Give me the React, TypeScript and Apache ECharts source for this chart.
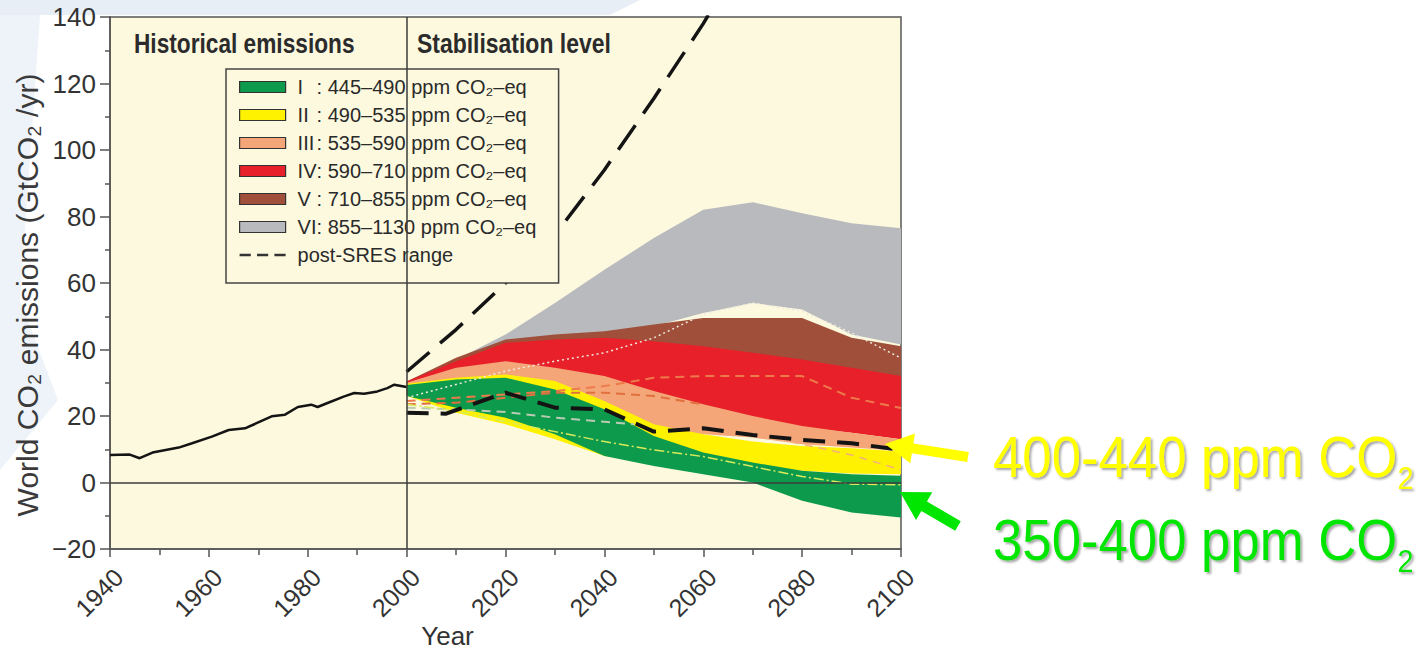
import { useEffect, useRef } from 'react';
import * as echarts from 'echarts';

const FONT = '"Liberation Sans", Arimo, Arial, sans-serif';

// Historical emissions
const histYears = [1940, 1944, 1946, 1948.6, 1953.9, 1956.6, 1960.6, 1964, 1967.3, 1969.3, 1972.7, 1975.4, 1978, 1980.7, 1982, 1984, 1987.4, 1989.4, 1991.4, 1994.1, 1996.1, 1997.5, 2000];
const histValues = [8.3, 8.4, 7.3, 9.0, 10.5, 11.8, 13.8, 15.8, 16.3, 17.6, 19.9, 20.4, 22.7, 23.4, 22.7, 23.9, 25.9, 26.9, 26.7, 27.4, 28.4, 29.4, 28.7];

// Stabilisation scenario bands
const scenarioYears = [2000, 2010, 2020, 2030, 2040, 2050, 2060, 2070, 2080, 2090, 2100];
const bandNumerals = ['I', 'II', 'III', 'IV', 'V', 'VI'];
const bandRanges = ['445–490', '490–535', '535–590', '590–710', '710–855', '855–1130'];
const bandColors = ['#0e9a4c', '#fff200', '#f5a678', '#e8202a', '#a04f3a', '#b9babd'];

const greenLow = [26, 22.5, 19.5, 14.5, 8, 5, 2.5, 0, -5.5, -9, -10.5];
const greenHigh = [29.3, 31, 31.5, 28, 22, 14, 9, 6, 3.5, 2.5, 2];
const yellowLow = [26, 21, 17.5, 13, 8, 6, 6.5, 5, 3.5, 2.7, 2.5];
const yellowHigh = [29.7, 31.5, 32.5, 30.5, 24.5, 17.5, 14.5, 12.3, 11, 10.3, 9.3];
const orangeLow = [26, 24, 24, 23, 21, 16, 14.5, 13.5, 11.5, 10.5, 9.5];
const orangeHigh = [30, 34.5, 36.5, 34.5, 32, 27.5, 23.5, 20, 17, 15, 13];
const redLow = [27, 27, 27, 27, 26, 24, 21, 18.5, 16.5, 15, 13];
const redHigh = [30.4, 36.5, 42, 43, 43.5, 42.5, 41, 39, 37, 34.5, 32];
const brownLow = [29, 33, 38, 40, 40, 40, 39, 37, 35, 32, 30];
const brownHigh = [30.4, 37.5, 43, 44.5, 45.5, 47.5, 49.5, 49.5, 49.5, 43.5, 41];
const grayLow = [29, 34, 40, 42, 44, 47, 51, 54, 52, 44.5, 41.5];
const grayHigh = [30.4, 37, 44.5, 54, 64, 73.5, 82, 84.3, 81, 78, 76.5];

const bandLows = [greenLow, yellowLow, orangeLow, redLow, brownLow, grayLow];
const bandHighs = [greenHigh, yellowHigh, orangeHigh, redHigh, brownHigh, grayHigh];

// post-SRES range lines
const sresUpperYears = [2000, 2010, 2020, 2030, 2040, 2050, 2060, 2062];
const sresUpperValues = [33.3, 46, 60, 74.5, 94, 115.5, 138, 143];
const sresLowerYears = [2000, 2008, 2020, 2030, 2040, 2050, 2060, 2070, 2080, 2090, 2100];
const sresLowerValues = [21, 20.7, 27, 22.5, 22, 15.3, 16.3, 14.3, 12.8, 11.8, 9.8];
const orangeDashYears = [2000, 2010, 2020, 2030, 2040, 2050, 2060, 2070, 2080, 2090, 2100];
const orangeDashValues = [24.5, 25.5, 26.5, 27.5, 29, 31.5, 32, 32, 32, 25.5, 22.4];
const orangeDash2Years = [2000, 2010, 2020, 2030, 2040, 2050, 2060];
const orangeDash2Values = [23.5, 24, 25.5, 27, 27, 26, 23.5];
const paleDashYears = [2000, 2010, 2020, 2030, 2040, 2046];
const paleDashValues = [22.5, 22, 21.2, 19.5, 18.3, 17.5];
const yellowDashYears = [2000, 2010, 2020, 2030, 2040, 2050, 2060, 2070, 2080, 2090, 2100];
const yellowDashValues = [23.5, 21.5, 18.3, 15.3, 12.3, 9.8, 7.8, 4.8, 1.8, -0.5, -0.7];
const whiteDotYears = [2000, 2010, 2020, 2030, 2040, 2050, 2060, 2070, 2080, 2090, 2100];
const whiteDotValues = [25.5, 29.5, 33.5, 36.5, 39, 43.5, 50.5, 54, 51.5, 45, 37.4];
const lightOrangeYears = [2075, 2080, 2090, 2100];
const lightOrangeValues = [13, 11.5, 8.3, 3.8];

const SRES = 'post-SRES range';

function pairs(xs: number[], ys: number[]) {
  return xs.map((x, i) => [x, ys[i]]);
}

function arrow(tail: number[], tip: number[], headLen: number, headHalf: number, shaftHalf: number) {
  const dx = tip[0] - tail[0];
  const dy = tip[1] - tail[1];
  const L = Math.hypot(dx, dy);
  const ux = dx / L, uy = dy / L;
  const nx = -uy, ny = ux;
  const bx = tip[0] - ux * headLen, by = tip[1] - uy * headLen;
  return [
    [tail[0] + nx * shaftHalf, tail[1] + ny * shaftHalf],
    [bx + nx * shaftHalf, by + ny * shaftHalf],
    [bx + nx * headHalf, by + ny * headHalf],
    tip,
    [bx - nx * headHalf, by - ny * headHalf],
    [bx - nx * shaftHalf, by - ny * shaftHalf],
    [tail[0] - nx * shaftHalf, tail[1] - ny * shaftHalf],
  ];
}

function bandName(i: number) {
  return `${bandNumerals[i]}: ${bandRanges[i]} ppm CO₂–eq`;
}

function bandSeries(k: number) {
  const low = bandLows[k];
  const high = bandHighs[k];
  const color = bandColors[k];
  return {
    name: bandName(k), type: 'custom', silent: true, z: 2, clip: true,
    itemStyle: { color },
    data: scenarioYears.map((y, i) => [y, low[i], high[i]]),
    encode: { x: 0, y: [1, 2] },
    renderItem: (params: any, api: any) => {
      if (params.dataIndex !== 0) return null;
      const top = scenarioYears.map((y, i) => api.coord([y, high[i]]));
      const bottom = scenarioYears.map((y, i) => api.coord([y, low[i]])).reverse();
      return { type: 'polygon', shape: { points: top.concat(bottom) }, style: { fill: color } };
    },
  };
}

function dashed(name: string, xs: number[], ys: number[], color: string, width: number, type: any) {
  return {
    name, type: 'line', data: pairs(xs, ys), symbol: 'none', silent: true, z: 3,
    itemStyle: { color },
    lineStyle: { color, width, type },
  };
}

export default function App() {
  const ref = useRef<HTMLDivElement>(null);
  useEffect(() => {
    if (!ref.current) return;
    const chart = echarts.init(ref.current, undefined, { renderer: 'svg' });

    const series: any[] = [];
    for (let k = bandNumerals.length - 1; k >= 0; k--) series.push(bandSeries(k));
    series.push(dashed(SRES, sresUpperYears, sresUpperValues, '#141414', 3.5, [30, 14]));
    series.push(dashed(SRES, orangeDashYears, orangeDashValues, '#ee7a4c', 2, [9, 6]));
    series.push(dashed(SRES, orangeDash2Years, orangeDash2Values, '#e0703e', 2, [9, 6]));
    series.push(dashed(SRES, paleDashYears, paleDashValues, '#b9cbb4', 2, [9, 6]));
    series.push(dashed(SRES, yellowDashYears, yellowDashValues, '#d9ea5a', 1.5, [10, 3, 2, 3]));
    series.push(dashed(SRES, whiteDotYears, whiteDotValues, '#efeadf', 1.5, [2, 3]));
    series.push(dashed(SRES, lightOrangeYears, lightOrangeValues, '#f3b07e', 1.5, [8, 6]));
    series.push(dashed(SRES, sresLowerYears, sresLowerValues, '#141414', 4, [22, 12]));
    series.push({
      name: 'Historical emissions', type: 'line', data: pairs(histYears, histValues), symbol: 'none',
      silent: true, z: 4,
      lineStyle: { color: '#141414', width: 2.5 },
      markLine: {
        silent: true, symbol: 'none', label: { show: false },
        lineStyle: { color: '#3c3c3c', width: 1.5, type: 'solid' },
        data: [{ xAxis: 2000 }, { yAxis: 0 }],
      },
    });

    const legendData: any[] = bandNumerals.map((_, i) => ({
      name: bandName(i), icon: 'rect',
      itemStyle: { color: bandColors[i], borderColor: '#333', borderWidth: 1.2, opacity: 1 },
    }));
    legendData.push({
      name: SRES, icon: 'path://M0,0h9v2h-9zM14,0h9v2h-9zM28,0h9v2h-9z',
      itemStyle: { color: '#333', borderWidth: 0 },
    });

    const textShadow = {
      textShadowColor: 'rgba(60,60,60,0.45)', textShadowBlur: 2, textShadowOffsetX: 2, textShadowOffsetY: 2,
    };
    const bigRich = (fill: string) => ({
      a: { fontFamily: FONT, fontSize: 57, lineHeight: 57, verticalAlign: 'top', fill, ...textShadow },
      s: { fontFamily: FONT, fontSize: 31, lineHeight: 31, padding: [34, 0, 0, 0], verticalAlign: 'top', fill, ...textShadow },
    });

    chart.setOption({
      animation: false,
      backgroundColor: '#ffffff',
      grid: {
        left: 110, right: 525, top: 17, bottom: 104,
        outerBoundsMode: 'none', containLabel: false,
        show: true, backgroundColor: '#fcf9df', borderColor: '#555', borderWidth: 1.5,
      },
      xAxis: {
        type: 'value', min: 1940, max: 2100, interval: 20,
        name: 'Year', nameLocation: 'middle', nameGap: 74, nameMoveOverlap: false,
        nameTextStyle: { fontFamily: FONT, fontSize: 26, color: '#333', padding: [0, 116, 0, 0] },
        axisLine: { show: true, onZero: false, lineStyle: { color: '#555', width: 1.5 } },
        axisTick: { show: true, length: 8, lineStyle: { color: '#555', width: 1.5 } },
        minorTick: { show: true, splitNumber: 2, length: 6, lineStyle: { color: '#555', width: 1.5 } },
        axisLabel: {
          rotate: 45, fontFamily: FONT, fontSize: 25, color: '#333', margin: 15, verticalAlign: 'top',
          formatter: (v: number) => String(v),
        },
        splitLine: { show: false },
      },
      yAxis: {
        type: 'value', min: -20, max: 140, interval: 20,
        name: 'World CO₂ emissions (GtCO₂ /yr)', nameLocation: 'middle', nameGap: 68, nameMoveOverlap: false,
        nameTextStyle: { fontFamily: FONT, fontSize: 30, color: '#3a3a3a', padding: [0, 24, 0, 0] },
        axisLine: { show: true, onZero: false, lineStyle: { color: '#555', width: 1.5 } },
        axisTick: { show: true, length: 10, lineStyle: { color: '#555', width: 1.5 } },
        minorTick: { show: true, splitNumber: 2, length: 5, lineStyle: { color: '#555', width: 1.5 } },
        axisLabel: {
          fontFamily: FONT, fontSize: 26, color: '#333', margin: 14,
          formatter: (v: number) => (v < 0 ? '−' + Math.abs(v) : String(v)),
        },
        splitLine: { show: false },
      },
      legend: {
        orient: 'vertical', left: 226, top: 69,
        padding: [8, 11, 18, 13], itemGap: 8, itemWidth: 46, itemHeight: 11,
        backgroundColor: '#fcf9df', borderColor: '#444', borderWidth: 1.5,
        selectedMode: false,
        textStyle: {
          fontFamily: FONT, fontSize: 20, color: '#2a2a2a', width: 257, lineHeight: 20,
          rich: {
            r: { fontFamily: FONT, fontSize: 20, color: '#2a2a2a', width: 19, lineHeight: 20, padding: [0, 0, 0, 7] },
            p: { fontFamily: FONT, fontSize: 20, color: '#2a2a2a', lineHeight: 20, padding: [0, 0, 0, 7] },
            t: { fontFamily: FONT, fontSize: 20, color: '#2a2a2a', lineHeight: 20 },
          },
        },
        formatter: (name: string) => {
          if (name === SRES) return `{p|${name}}`;
          const idx = name.indexOf(':');
          return `{r|${name.slice(0, idx)}}{t|${name.slice(idx)}}`;
        },
        data: legendData,
      },
      graphic: [
        { type: 'polygon', z: -5, silent: true, shape: { points: [[0, 0], [640, 0], [610, 15], [0, 15]] }, style: { fill: '#e7eef5' } },
        { type: 'polygon', z: -5, silent: true, shape: { points: [[0, 15], [40, 15], [20, 300], [58, 400], [0, 470]] }, style: { fill: '#edf3f8' } },
        {
          type: 'text', x: 134, y: 43, scaleX: 0.84, z: 5, silent: true,
          style: { text: 'Historical emissions', fontFamily: FONT, fontSize: 27, fontWeight: 'bold', fill: '#2b2b2b', verticalAlign: 'middle', align: 'left' },
        },
        {
          type: 'text', x: 417, y: 43, scaleX: 0.85, z: 5, silent: true,
          style: { text: 'Stabilisation level', fontFamily: FONT, fontSize: 27, fontWeight: 'bold', fill: '#2b2b2b', verticalAlign: 'middle', align: 'left' },
        },
        {
          type: 'polygon', z: 6, silent: true,
          shape: { points: arrow([968, 457], [885, 444], 28, 15, 5) },
          style: { fill: '#ffff00' },
        },
        {
          type: 'polygon', z: 6, silent: true,
          shape: { points: arrow([958, 526], [900, 492], 28, 16, 5.5) },
          style: { fill: '#00e600' },
        },
        {
          type: 'text', x: 993, y: 429, scaleX: 0.925, z: 6, silent: true,
          style: { text: '{a|400-440 ppm CO}{s|2}', rich: bigRich('#ffff00'), align: 'left', verticalAlign: 'top', fill: '#ffff00' },
        },
        {
          type: 'text', x: 993, y: 512, scaleX: 0.925, z: 6, silent: true,
          style: { text: '{a|350-400 ppm CO}{s|2}', rich: bigRich('#00e600'), align: 'left', verticalAlign: 'top', fill: '#00e600' },
        },
      ],
      series,
    });

    return () => chart.dispose();
  }, []);

  return <div ref={ref} style={{ position: 'absolute', left: 0, top: 0, width: 1426, height: 653 }} />;
}
